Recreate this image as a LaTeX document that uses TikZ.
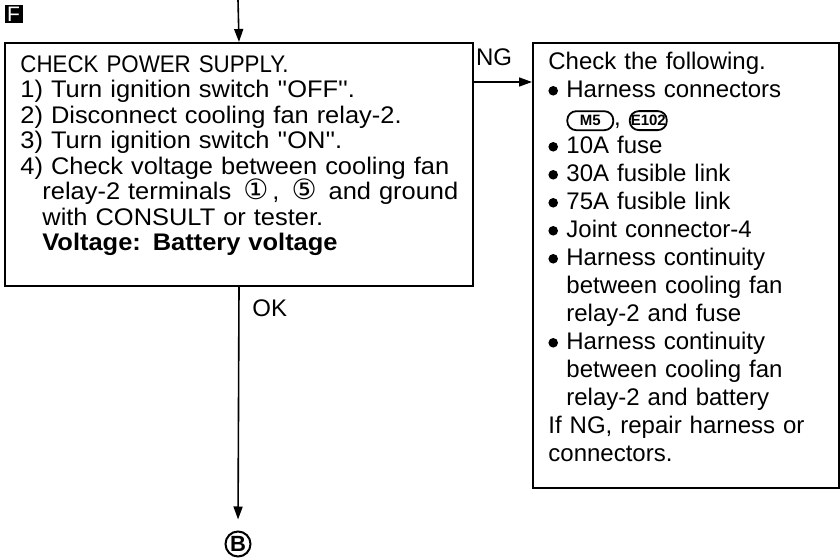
\documentclass[tikz,border=0pt]{standalone}
\usepackage{fontspec}
\setmainfont{Liberation Sans}
\newfontfamily\dejavu{DejaVu Sans}
\newfontfamily\widefont[FakeStretch=1.06]{Liberation Sans}
\newfontfamily\capfont[FakeStretch=0.93]{Liberation Sans}
\usetikzlibrary{arrows.meta}
\newcommand\bul{\tikz[baseline]\fill (2.4pt,3.5pt) circle (2.4pt);}
\newcommand\conn[2]{\tikz[baseline=(c.base)]\node(c)[draw,line width=0.9pt,rounded corners=4.5pt,minimum width=#2,minimum height=9.5pt,inner sep=0.5pt,font=\bfseries\fontsize{7.5}{7.5}\selectfont]{#1};}
\newcommand\cnum[1]{\smash{\dejavu\fontsize{14pt}{14pt}\selectfont #1}}
\begin{document}
\begin{tikzpicture}[x=0.5pt,y=-0.5pt,
  boxstyle/.style={draw, line width=1pt, inner sep=0, anchor=north west},
  txt/.style={anchor=north west, inner sep=0, align=left},
  arr/.style={line width=0.8pt, -{Triangle[length=6.5pt,width=4.5pt]}},
  lbl/.style={font=\fontsize{12pt}{14pt}\selectfont, inner sep=0}]
\useasboundingbox (0,0) rectangle (840,560);
\node[boxstyle, minimum width=234pt, minimum height=121.5pt] (box1) at (4,42) {};
\node[boxstyle, minimum width=153pt, minimum height=222.5pt] (box2) at (532,42) {};
\node[txt, text width=224pt, font=\widefont\fontsize{12pt}{12.75pt}\selectfont] (t1) at (20,55) {%
{\capfont CHECK POWER SUPPLY.}\\
1) Turn ignition switch ''OFF''.\\
2) Disconnect cooling fan relay-2.\\
3) Turn ignition switch ''ON''.\\
4) Check voltage between cooling fan\\
\hspace*{11pt}relay-2 terminals \,\cnum{①}\,, \,\cnum{⑤}\, and ground\\
\hspace*{11pt}with CONSULT or tester.\\
\hspace*{11pt}\textbf{Voltage: Battery voltage}};
\node[txt, text width=145pt, font=\fontsize{12pt}{14pt}\selectfont] (t2) at (548,52) {%
Check the following.\\
\makebox[9pt][l]{\bul}Harness connectors\\
\hspace*{9pt}\conn{M5}{23pt}, \conn{E102}{18.5pt}\\
\makebox[9pt][l]{\bul}10A fuse\\
\makebox[9pt][l]{\bul}30A fusible link\\
\makebox[9pt][l]{\bul}75A fusible link\\
\makebox[9pt][l]{\bul}Joint connector-4\\
\makebox[9pt][l]{\bul}Harness continuity\\
\hspace*{9pt}between cooling fan\\
\hspace*{9pt}relay-2 and fuse\\
\makebox[9pt][l]{\bul}Harness continuity\\
\hspace*{9pt}between cooling fan\\
\hspace*{9pt}relay-2 and battery\\
If NG, repair harness or\\
connectors.};
\node[fill=black, text=white, minimum size=9pt, inner sep=0, font=\fontsize{10.5}{10.5}\selectfont] (F) at (13.5,14.5) {F};
\node[lbl] (ng) at (494,57) {NG};
\node[lbl, anchor=west] (ok) at (252,308) {OK};
\node[circle, draw, line width=1pt, minimum size=12.5pt, inner sep=0, font=\bfseries\fontsize{11}{11}\selectfont] (B) at (238,544) {B};
\coordinate (top) at (238,0);
\coordinate (ngs) at (472,82);
\draw[arr] (top) -- (box1.north);
\draw[arr] (ngs) -- (ngs -| box2.west);
\draw[arr, shorten >=5.5pt] (box1.south) -- (B.north);
\end{tikzpicture}
\end{document}
